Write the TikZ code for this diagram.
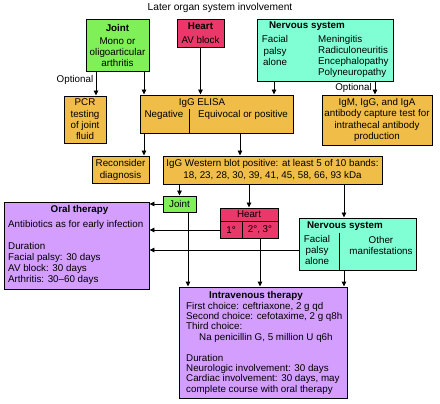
\documentclass[tikz,border=0pt]{standalone}
\usepackage{fontspec}
\setmainfont{Liberation Sans}
\usetikzlibrary{arrows.meta}
\definecolor{jointgreen}{RGB}{128,240,88}
\definecolor{heartred}{RGB}{234,56,106}
\definecolor{nerveaqua}{RGB}{128,255,212}
\definecolor{testorange}{RGB}{240,190,72}
\definecolor{therapyviolet}{RGB}{212,158,255}
\begin{document}
\begin{tikzpicture}[x=1pt, y=-1pt,
    every node/.style={inner sep=0pt, font=\fontsize{9.8}{11}\selectfont},
    box/.style={draw=black, line width=0.9pt},
    arr/.style={draw=black, line width=0.9pt, -{Triangle[length=5pt,width=4.5pt]}},
    divider/.style={draw=black, line width=0.9pt},
    hdr/.style={font=\fontsize{9.8}{11}\selectfont\bfseries}]
    \useasboundingbox (0,0) rectangle (440,404);
    % title
    \node (title) at (220,8) {\fontsize{10.2}{12}\selectfont Later organ system involvement};
    % first row: organ systems
    \node[box, fill=jointgreen, minimum width=63, minimum height=52, align=center] (joint) at (117.5,45)
        {\textbf{Joint}\\[2pt]Mono or\\oligoarticular\\arthritis};
    \node[box, fill=heartred, minimum width=47, minimum height=28, align=center] (heart) at (200.5,33)
        {\textbf{Heart}\\[3pt]AV block};
    \node[box, fill=nerveaqua, minimum width=136, minimum height=62] (nerv) at (325,50.5) {};
    \node[hdr] (nervtitle) at (307,26) {Nervous system};
    \node[align=center, font=\fontsize{9.8}{11.5}\selectfont] (nervfacial) at (275,50.5) {Facial\\palsy\\alone};
    \node[align=left, anchor=north west] (nervother) at (318,35)
        {Meningitis\\Radiculoneuritis\\Encephalopathy\\Polyneuropathy};
    % second row: tests
    \node[box, fill=testorange, minimum width=42, minimum height=47, align=center,
        font=\fontsize{9.8}{11.3}\selectfont] (pcr) at (85,119.5) {PCR\\testing\\of joint\\fluid};
    \node[box, fill=testorange, minimum width=153, minimum height=38] (elisa) at (216.5,114) {};
    \node (elisatitle) at (202,103) {IgG ELISA};
    \node (eneg) at (164,114.5) {Negative};
    \node (epos) at (243,114.5) {Equivocal or positive};
    \draw[divider] (189,109) -- (189,133);
    \node[box, fill=testorange, minimum width=110, minimum height=50, align=center,
        font=\fontsize{9.8}{11.3}\selectfont] (igm) at (377,120)
        {IgM, IgG, and IgA\\antibody capture test for\\intrathecal antibody\\production};
    \node (opt1) at (75,80) {Optional};
    \node (opt2) at (353.5,88) {Optional};
    % third row
    \node[box, fill=testorange, minimum width=57, minimum height=27, align=center] (recon) at (120.5,169.5)
        {Reconsider\\[1pt]diagnosis};
    \node[box, fill=testorange, minimum width=219, minimum height=28, align=center] (wb) at (272.5,170)
        {IgG Western blot positive: at least 5 of 10 bands:\\[1pt]18, 23, 28, 30, 39, 41, 45, 58, 66, 93 kDa};
    % fourth row: involvement found
    \node[box, fill=jointgreen, minimum width=33, minimum height=16] (jnt2) at (179.5,204) {Joint};
    \node[box, fill=heartred, minimum width=58, minimum height=30] (hrt2) at (249,223) {};
    \node (hrttitle) at (249,214.5) {Heart};
    \draw[divider] (220,221) -- (278,221);
    \draw[divider] (242,221) -- (242,238);
    \node (hone) at (231,230) {1°};
    \node (htwo) at (260,230) {2°, 3°};
    \node[box, fill=nerveaqua, minimum width=117, minimum height=52] (nrv2) at (357.5,244) {};
    \node[hdr] (nrvtitle) at (345,226) {Nervous system};
    \node[align=center] (nface) at (317,250) {Facial\\palsy\\alone};
    \node[align=center] (nother) at (381,245) {Other\\manifestations};
    \draw[divider] (339,233) -- (339,270);
    % therapies
    \node[box, fill=therapyviolet, minimum width=145, minimum height=87] (oral) at (76.5,245.5) {};
    \node[hdr] (oraltitle) at (79.5,210) {Oral therapy};
    \node[align=left, anchor=north west] (oraltext) at (8,220)
        {Antibiotics as for early infection\\[11pt]Duration\\Facial palsy: 30 days\\AV block: 30 days\\Arthritis: 30--60 days};
    \node[box, fill=therapyviolet, minimum width=168, minimum height=111] (iv) at (263,342.5) {};
    \node[hdr] (ivtitle) at (256,295.5) {Intravenous therapy};
    \node[align=left, anchor=north west, font=\fontsize{9.8}{10.4}\selectfont] (ivtext) at (186,301.7)
        {First choice: ceftriaxone, 2 g qd\\Second choice: cefotaxime, 2 g q8h\\Third choice:\\
        \hspace*{13pt}Na penicillin G, 5 million U q6h\\[10.4pt]Duration\\Neurologic involvement: 30 days\\
        Cardiac involvement: 30 days, may\\complete course with oral therapy};
    % connectors
    \coordinate (xpcr) at (96,0);
    \coordinate (xjel) at (144,0);
    \coordinate (xnel) at (274,0);
    \coordinate (xnig) at (375,0);
    \coordinate (xrec) at (144,0);
    \coordinate (xwb) at (240,0);
    \coordinate (xjiv) at (188,0);
    \coordinate (xniv) at (344,0);
    \draw[arr] (joint.south -| xpcr) -- (pcr.north -| xpcr);
    \draw[arr] (joint.south -| xjel) -- (elisa.north -| xjel);
    \draw[arr] (heart.south) -- (elisa.north -| heart.south);
    \draw[arr] (nerv.south -| xnel) -- (elisa.north -| xnel);
    \draw[arr] (nerv.south -| xnig) -- (igm.north -| xnig);
    \draw[arr] (elisa.south -| xrec) -- (recon.north -| xrec);
    \draw[arr] (elisa.south -| xwb) -- (wb.north -| xwb);
    \draw[arr] (wb.south -| jnt2.north) -- (jnt2.north);
    \draw[arr] (wb.south -| hrt2.north) -- (hrt2.north);
    \draw[arr] (wb.south -| xniv) -- (nrv2.north -| xniv);
    \draw[arr] (jnt2.west) -- (oral.east |- jnt2.west);
    \draw[arr] (hrt2.west |- hone) -- (oral.east |- hone);
    \draw[arr] (nrv2.west |- nface) -- (oral.east |- nface);
    \draw[arr] (jnt2.south -| xjiv) -- (iv.north -| xjiv);
    \draw[arr] (hrt2.south -| htwo) -- (iv.north -| htwo);
    \draw[arr] (nrv2.south -| xniv) -- (iv.north -| xniv);
\end{tikzpicture}
\end{document}
